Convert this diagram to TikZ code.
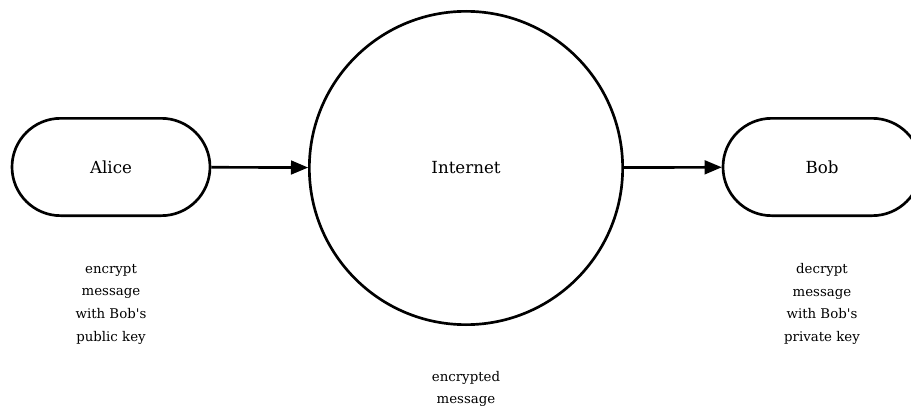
\documentclass[tikz,border=0pt]{standalone}
\usepackage{fontspec}
\setmainfont{DejaVu Serif}
\usetikzlibrary{arrows}

\tikzset{
  party/.style={rectangle, rounded corners=36.5pt, draw, line width=2pt,
    minimum width=148.5pt, minimum height=73pt, font=\fontsize{12.5}{14}\selectfont},
  net/.style={circle, draw, line width=2pt, minimum size=235pt,
    font=\fontsize{12.5}{14}\selectfont},
  note/.style={align=center, font=\fontsize{10}{17}\selectfont}
}

\begin{document}
\begin{tikzpicture}[x=0.75pt, y=-0.75pt, >=triangle 45]
  \useasboundingbox (0,0) rectangle (911,407);
  \node[party] (alice) at (111,167) {Alice};
  \node[net]   (inet)  at (466,168) {Internet};
  \node[party] (bob)   at (822,167) {Bob};
  \draw [->, line width=2pt] (alice) -- (inet);
  \draw [->, line width=2pt] (inet) -- (bob);
  % what each side does
  \node[note] (aliceNote) at (111,304) {encrypt\\message\\with Bob\textquotesingle s\\public key};
  \node[note] (bobNote)   at (822,304) {decrypt\\message\\with Bob\textquotesingle s\\private key};
  \node[note] (inetNote)  at (466,389) {encrypted\\message};
\end{tikzpicture}
\end{document}
